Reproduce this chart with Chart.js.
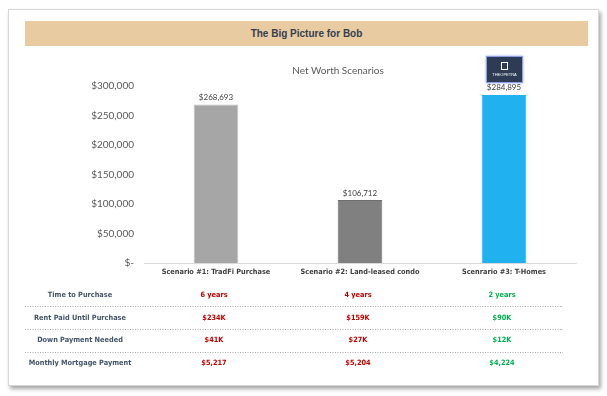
<!DOCTYPE html>
<html lang="en">
<head>
  <meta charset="UTF-8" />
  <title>The Big Picture for Bob</title>
  <style>
    body { margin: 0; background: #fff; width: 607px; height: 396px; position: relative; overflow: hidden; }
    .card { position: absolute; left: 8px; top: 9px; width: 589px; height: 375px; border: 1px solid #d6d6d6; box-shadow: 2px 3px 4px rgba(0,0,0,0.35); background: #fff; }
    .band { position: absolute; left: 25px; top: 21px; width: 563px; height: 25px; background: #E8CBA0;
            font: bold 10px "Liberation Sans", Arial, sans-serif; color: #333F50; text-align: center; line-height: 25px; }
    .logo { position: absolute; left: 486px; top: 56px; width: 35px; height: 25px; background: #2E3B55;
            border: 1px solid #8D9FE0; box-shadow: 0 0 2px #8D9FE0; color: #fff; text-align: center;
            font: 4px "Liberation Sans", sans-serif; }
    .logo .ico { width: 5px; height: 6px; border: 1px solid #fff; margin: 5px auto 2px; }
    #chart { position: absolute; left: 0; top: 50px; }
  </style>
</head>
<body>
  <div class="card"></div>
  <div class="band">The Big Picture for Bob</div>
  <canvas id="chart" width="607" height="330"></canvas>
  <div class="logo"><div class="ico"></div>THEOPETRA</div>

  <script src="https://cdn.jsdelivr.net/npm/chart.js"></script>
  <script>
    const categories = ['Scenario #1: TradFi Purchase', 'Scenario #2: Land-leased condo', 'Scenrario #3: T-Homes'];
    const netWorth = [268693, 106712, 284895];
    const barColors = ['#A6A6A6', '#808080', '#1FB2EF'];

    const rowLabels = ['Time to Purchase', 'Rent Paid Until Purchase', 'Down Payment Needed', 'Monthly Mortgage Payment'];
    const timeToPurchase = ['6 years', '4 years', '2 years'];
    const rentPaid = ['$234K', '$159K', '$90K'];
    const downPayment = ['$41K', '$27K', '$12K'];
    const mortgagePayment = ['$5,217', '$5,204', '$4,224'];
    const valueColors = ['#C00000', '#C00000', '#00B050'];

    const FONT = 'Lato, "Open Sans", sans-serif';
    const BOLD = '"DejaVu Sans Condensed", "Open Sans", sans-serif';
    const money = v => '$' + v.toLocaleString('en-US');

    // title, value labels above the bars
    const barLabels = {
      id: 'barLabels',
      afterDatasetsDraw(chart) {
        const ctx = chart.ctx;
        ctx.save();
        ctx.textAlign = 'center';
        ctx.textBaseline = 'middle';
        ctx.font = '10px ' + FONT;
        ctx.fillStyle = '#595959';
        ctx.fillText('Net Worth Scenarios', 338, 21);
        ctx.font = '8px ' + FONT;
        ctx.fillStyle = '#404040';
        ctx.textBaseline = 'bottom';
        chart.getDatasetMeta(0).data.forEach((bar, i) => {
          ctx.fillText(money(netWorth[i]), bar.x, bar.y - 3);
        });
        ctx.restore();
      }
    };

    // comparison table under the x axis
    const table = {
      id: 'table',
      afterDraw(chart) {
        const ctx = chart.ctx;
        const x = chart.scales.x;
        const rows = [timeToPurchase, rentPaid, downPayment, mortgagePayment];
        const y0 = 245, step = 22.7;
        ctx.save();
        ctx.textBaseline = 'middle';
        ctx.textAlign = 'center';
        rows.forEach((row, r) => {
          const y = y0 + r * step;
          ctx.font = 'bold 7.3px ' + BOLD;
          ctx.fillStyle = '#44546A';
          ctx.fillText(rowLabels[r], 80, y);
          row.forEach((val, i) => {
            ctx.fillStyle = valueColors[i];
            ctx.fillText(val, x.getPixelForValue(i) - 2, y);
          });
          if (r < rows.length - 1) {
            ctx.strokeStyle = '#A6A6A6';
            ctx.lineWidth = 1;
            ctx.setLineDash([1, 1.5]);
            ctx.beginPath();
            ctx.moveTo(25, Math.round(y + step / 2) + 0.5);
            ctx.lineTo(563, Math.round(y + step / 2) + 0.5);
            ctx.stroke();
          }
        });
        ctx.restore();
      }
    };

    new Chart(document.getElementById('chart'), {
      type: 'bar',
      data: {
        labels: categories,
        datasets: [{
          data: netWorth,
          backgroundColor: barColors,
          borderColor: ['#BDBDBD', '#6E6E6E', '#1FB2EF'],
          borderWidth: 1,
          categoryPercentage: 1,
          barPercentage: 0.31
        }]
      },
      options: {
        responsive: false,
        animation: false,
        layout: { padding: { top: 36, left: 50, right: 31, bottom: 97 } },
        plugins: {
          legend: { display: false },
          tooltip: { enabled: false },
          title: { display: false }
        },
        scales: {
          x: {
            grid: { display: false, drawTicks: false },
            border: { display: true, color: '#D9D9D9' },
            ticks: { color: '#404040', padding: 5, font: { family: BOLD, size: 7.3, weight: 'bold' } },
            afterFit: s => { s.height = 20; }
          },
          y: {
            min: 0, max: 300000,
            grid: { display: false, drawTicks: false },
            border: { display: false },
            ticks: {
              stepSize: 50000,
              padding: 10,
              color: '#595959',
              font: { family: FONT, size: 10 },
              callback: v => v === 0 ? '$-' : money(v)
            },
            afterFit: s => { s.width = 94; }
          }
        }
      },
      plugins: [barLabels, table]
    });
  </script>
</body>
</html>
